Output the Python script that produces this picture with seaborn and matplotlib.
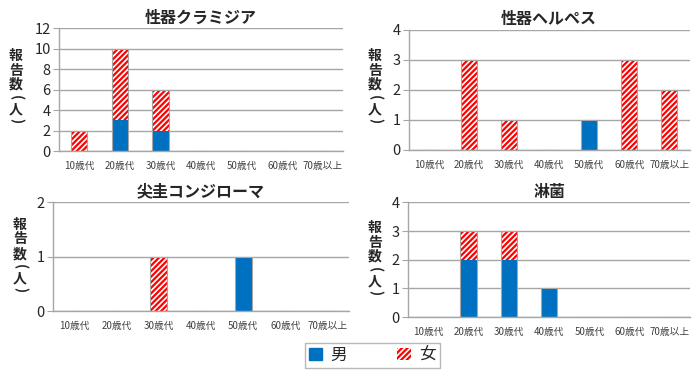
import matplotlib
matplotlib.use('Agg')
import matplotlib.pyplot as plt
import matplotlib.patches as mpatches
from matplotlib.ticker import MultipleLocator, FixedLocator
import seaborn as sns

# データ
ages = ['10歳代', '20歳代', '30歳代', '40歳代', '50歳代', '60歳代', '70歳以上']

titles = ['性器クラミジア', '性器ヘルペス', '尖圭コンジローマ', '淋菌']
male_chlamydia = [0, 3, 2, 0, 0, 0, 0]
female_chlamydia = [2, 7, 4, 0, 0, 0, 0]
male_herpes = [0, 0, 0, 0, 1, 0, 0]
female_herpes = [0, 3, 1, 0, 0, 3, 2]
male_condyloma = [0, 0, 0, 0, 1, 0, 0]
female_condyloma = [0, 0, 1, 0, 0, 0, 0]
male_gonorrhea = [0, 2, 2, 1, 0, 0, 0]
female_gonorrhea = [0, 1, 1, 0, 0, 0, 0]

y_max = [12, 4, 2, 4]
y_step = [2, 1, 1, 1]

BLUE = '#0070C0'
RED = '#FF0000'
GRAY = '#A6A6A6'
HATCH = '//////'

sns.set_style('white')
plt.rcParams['font.family'] = ['Noto Sans CJK JP', 'DejaVu Sans']
plt.rcParams['hatch.linewidth'] = 1.6

W, H = 700, 374
fig = plt.figure(figsize=(W / 100, H / 100), dpi=100)

# 各パネルの位置 (left, bottom, width, height)
boxes = [
    [0.0843, 0.596, 0.406, 0.329],
    [0.584, 0.599, 0.401, 0.321],
    [0.0757, 0.168, 0.423, 0.291],
    [0.583, 0.152, 0.403, 0.307],
]
# 縦書きラベル: 先頭文字の位置 (px)
label_start = [(16, 56), (375, 56), (20, 225), (375, 228)]
label_chars = [('報', 0, 0), ('告', 14.5, 0), ('数', 29, 0),
               ('(', 41.5, -90), ('人', 53, 0), (')', 65, -90)]

series = [
    (male_chlamydia, female_chlamydia),
    (male_herpes, female_herpes),
    (male_condyloma, female_condyloma),
    (male_gonorrhea, female_gonorrhea),
]

for i, (male, female) in enumerate(series):
    ax = fig.add_axes(boxes[i])
    total = [m + f for m, f in zip(male, female)]

    # 女 (合計の高さまで斜線)
    sns.barplot(x=ages, y=total, color='white', saturation=1, width=0.4,
                hatch=HATCH, edgecolor=RED, linewidth=0, errorbar=None, ax=ax)
    # 男
    sns.barplot(x=ages, y=male, color=BLUE, saturation=1, width=0.4,
                linewidth=0, errorbar=None, ax=ax)
    # 外枠
    sns.barplot(x=ages, y=total, color=GRAY, fill=False, width=0.4,
                linewidth=0.8, errorbar=None, ax=ax)

    ax.set_xlim(-0.5, 6.5)
    ax.set_ylim(0, y_max[i])
    ax.yaxis.set_major_locator(MultipleLocator(y_step[i]))
    ax.grid(axis='y', color=GRAY, linewidth=1)
    ax.set_axisbelow(True)
    for s in ['top', 'right']:
        ax.spines[s].set_visible(False)
    for s in ['left', 'bottom']:
        ax.spines[s].set_color(GRAY)
        ax.spines[s].set_linewidth(1)

    ax.xaxis.set_minor_locator(FixedLocator([k - 0.5 for k in range(8)]))
    ax.tick_params(axis='x', which='major', length=0, pad=7, labelsize=7,
                   labelcolor='#404040')
    ax.tick_params(axis='x', which='minor', length=4, color=GRAY, width=1)
    ax.tick_params(axis='y', length=4, color=GRAY, labelsize=10.5, pad=2)
    ax.tick_params(axis='y', which='major', left=True)
    ax.set_xlabel('')
    ax.set_ylabel('')
    ax.set_title(titles[i], fontsize=11.5, fontweight='bold', pad=4)

    x0, y0 = label_start[i]
    for ch, dy, rot in label_chars:
        fig.text(x0 / W, 1 - (y0 + dy) / H, ch, ha='center', va='center',
                 rotation=rot, fontsize=10, fontweight='bold',
                 rotation_mode='anchor')

handles = [
    mpatches.Patch(facecolor=BLUE, edgecolor=BLUE, label='男'),
    mpatches.Patch(facecolor='white', edgecolor=RED, hatch=HATCH, linewidth=0, label='女'),
]
leg = fig.legend(handles=handles, loc='center', bbox_to_anchor=(0.532, 0.05),
                 ncol=2, fontsize=12, frameon=True, fancybox=False,
                 edgecolor=GRAY, handlelength=0.8, handleheight=0.8,
                 columnspacing=3.0, handletextpad=0.5, borderpad=0.25,
                 borderaxespad=0)
leg.get_frame().set_linewidth(1)

fig.savefig('out.png', dpi=100)
